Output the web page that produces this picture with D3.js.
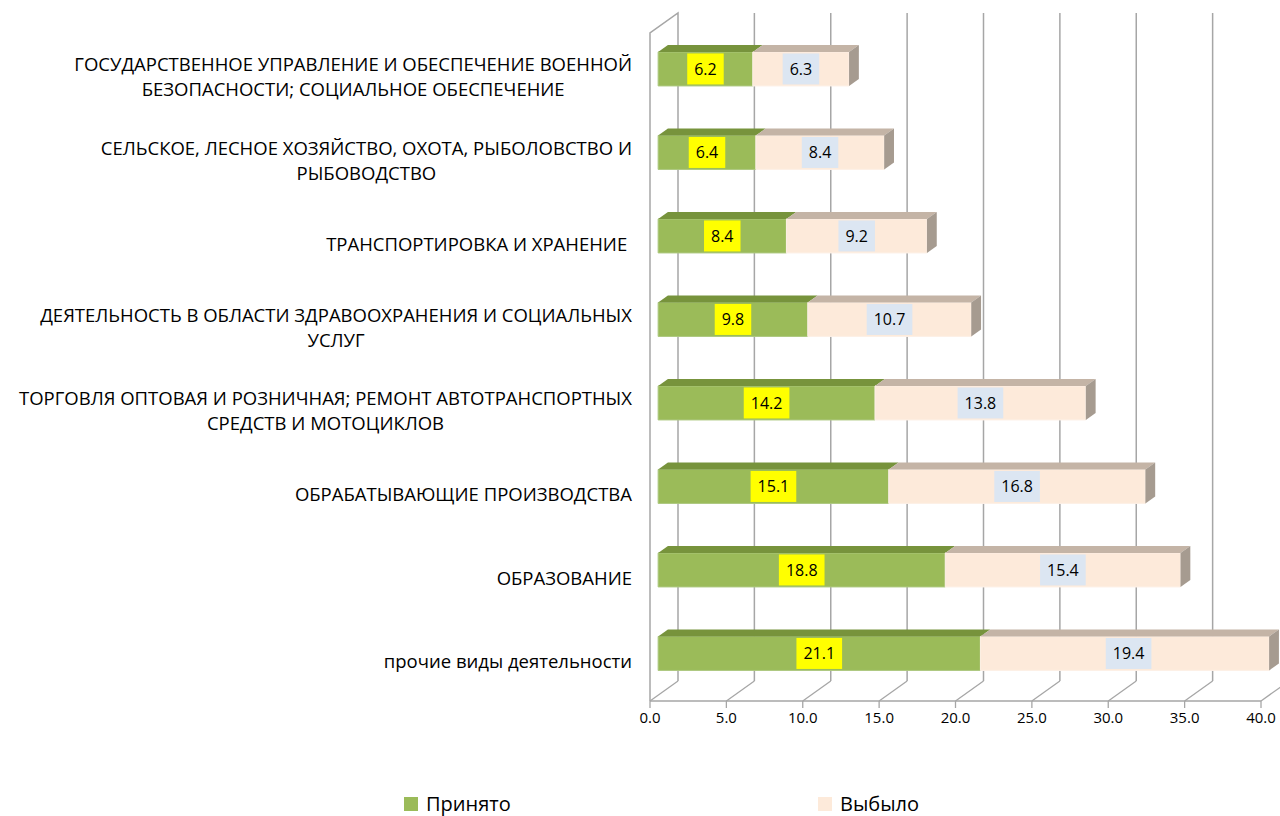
<!DOCTYPE html>
<html>
<head>
<meta charset="utf-8">
<script src="https://cdn.jsdelivr.net/npm/d3@7"></script>
<style>
  body { margin: 0; background: #fff; }
  svg { display: block; font-family: "Open Sans", "Noto Sans", sans-serif; }
</style>
</head>
<body>
<svg width="1280" height="816"></svg>
<script>
// categories, top to bottom ("\n" = line break in the label)
var categories = [
    'ГОСУДАРСТВЕННОЕ УПРАВЛЕНИЕ И ОБЕСПЕЧЕНИЕ ВОЕННОЙ\nБЕЗОПАСНОСТИ; СОЦИАЛЬНОЕ ОБЕСПЕЧЕНИЕ',
    'СЕЛЬСКОЕ, ЛЕСНОЕ ХОЗЯЙСТВО, ОХОТА, РЫБОЛОВСТВО И\nРЫБОВОДСТВО',
    'ТРАНСПОРТИРОВКА И ХРАНЕНИЕ ',
    'ДЕЯТЕЛЬНОСТЬ В ОБЛАСТИ ЗДРАВООХРАНЕНИЯ И СОЦИАЛЬНЫХ\nУСЛУГ',
    'ТОРГОВЛЯ ОПТОВАЯ И РОЗНИЧНАЯ; РЕМОНТ АВТОТРАНСПОРТНЫХ\nСРЕДСТВ И МОТОЦИКЛОВ',
    'ОБРАБАТЫВАЮЩИЕ ПРОИЗВОДСТВА',
    'ОБРАЗОВАНИЕ',
    'прочие виды деятельности'
];
var prinyato = [6.2, 6.4, 8.4, 9.8, 14.2, 15.1, 18.8, 21.1];
var vybylo   = [6.3, 8.4, 9.2, 10.7, 13.8, 16.8, 15.4, 19.4];
var seriesNames = ['Принято', 'Выбыло'];
var xTicks = [0, 5, 10, 15, 20, 25, 30, 35, 40];

var svg = d3.select('svg');

// 3d box: depth vector of the floor / walls
var DX = 28, DY = -20;
var F0 = 0.29, F1 = 0.64;   // bar front / back as share of the depth
var barH = 34;

var x = d3.scaleLinear().domain([0, 40]).range([650, 1261]).clamp(true);
var xRaw = x.copy().clamp(false);
var y = d3.scaleBand().domain(categories).range([33, 701]);

var grid = '#a6a6a6';
var g = svg.append('g');

// back wall gridlines
g.selectAll('line.grid')
    .data(xTicks.slice(1))
    .enter().append('line')
    .attr('x1', function(d){ return x(d) + DX; })
    .attr('x2', function(d){ return x(d) + DX; })
    .attr('y1', 33 + DY)
    .attr('y2', 701 + DY)
    .attr('stroke', grid).attr('stroke-width', 1.5);

// floor diagonals
g.selectAll('line.floor')
    .data(xTicks)
    .enter().append('line')
    .attr('x1', function(d){ return x(d); })
    .attr('y1', 701)
    .attr('x2', function(d){ return x(d) + DX; })
    .attr('y2', 701 + DY)
    .attr('stroke', grid).attr('stroke-width', 1.3);

// left wall
g.append('path')
    .attr('d', 'M' + x(0) + ',701 V33 L' + (x(0) + DX) + ',' + (33 + DY) + ' V' + (701 + DY))
    .attr('fill', 'none').attr('stroke', grid).attr('stroke-width', 1.5);

// floor front edge + ticks
g.append('line')
    .attr('x1', x(0)).attr('x2', x(40)).attr('y1', 701).attr('y2', 701)
    .attr('stroke', grid).attr('stroke-width', 1.5);
g.selectAll('line.tick')
    .data(xTicks)
    .enter().append('line')
    .attr('x1', function(d){ return x(d); })
    .attr('x2', function(d){ return x(d); })
    .attr('y1', 701).attr('y2', 708)
    .attr('stroke', grid).attr('stroke-width', 1.3);

g.selectAll('text.tick')
    .data(xTicks)
    .enter().append('text')
    .attr('x', function(d){ return x(d); })
    .attr('y', 723)
    .attr('text-anchor', 'middle')
    .attr('font-size', 15)
    .attr('fill', '#000')
    .text(function(d){ return d.toFixed(1); });

// bars
function pt(v, yc, f) {
    return [x(v) + f * DX, yc + f * DY];
}
function poly(points) {
    return 'M' + points.map(function(p){ return p[0] + ',' + p[1]; }).join('L') + 'Z';
}

var segs = [
    {values: prinyato, front: '#9bbb59', top: '#77933c', side: '#6f8a38', box: '#ffff00'},
    {values: vybylo,   front: '#fdeada', top: '#c4b4a6', side: '#a69b90', box: '#dce6f2'}
];

categories.forEach(function(cat, i){
    var yc = y(cat) + y.bandwidth() / 2;
    var yt = yc - barH / 2, yb = yc + barH / 2;
    var start = 0;
    var bg = g.append('g');
    segs.forEach(function(s, k){
        var v0 = start, v1 = start + s.values[i];
        start = v1;
        // front face
        bg.append('path')
            .attr('d', poly([pt(v0, yt, F0), pt(v1, yt, F0), pt(v1, yb, F0), pt(v0, yb, F0)]))
            .attr('fill', s.front)
            .attr('stroke', k === 0 ? '#aec880' : '#fdf0e6').attr('stroke-width', 1);
        // top face
        bg.append('path')
            .attr('d', poly([pt(v0, yt, F0), pt(v0, yt, F1), pt(v1, yt, F1), pt(v1, yt, F0)]))
            .attr('fill', s.top);
        if (k === segs.length - 1) {
            // right side face
            bg.append('path')
                .attr('d', poly([pt(v1, yt, F0), pt(v1, yt, F1), pt(v1, yb, F1), pt(v1, yb, F0)]))
                .attr('fill', s.side);
        }
        // value label, centred on the (unclipped) segment
        var cx = (xRaw(v0) + xRaw(v1)) / 2 + F0 * DX;
        var cy = yc + F0 * DY;
        var lab = bg.append('g');
        var t = lab.append('text')
            .attr('x', cx).attr('y', cy + 6)
            .attr('text-anchor', 'middle')
            .attr('font-size', 16)
            .attr('fill', '#000')
            .text(s.values[i].toFixed(1));
        var w = t.node().getComputedTextLength();
        lab.insert('rect', 'text')
            .attr('x', cx - w / 2 - 7).attr('width', w + 14)
            .attr('y', cy - barH / 2 + 1.5).attr('height', barH - 3)
            .attr('fill', s.box);
    });
});

// category labels: lines centred on each other, right edge at 632
categories.forEach(function(cat){
    var lines = cat.split('\n');
    var yc = y(cat) + y.bandwidth() / 2 + 3;
    var lg = svg.append('g');
    var texts = lines.map(function(line, j){
        return lg.append('text')
            .attr('y', yc + (j - (lines.length - 1) / 2) * 25 + 6)
            .attr('font-size', 18.5)
            .attr('fill', '#000')
            .attr('text-anchor', 'middle')
            .attr('xml:space', 'preserve')
            .text(line);
    });
    var maxW = d3.max(texts, function(t){ return t.node().getComputedTextLength(); });
    texts.forEach(function(t){ t.attr('x', 632 - maxW / 2); });
});

// legend
var legendX = [404, 818];
seriesNames.forEach(function(name, k){
    svg.append('rect')
        .attr('x', legendX[k]).attr('y', 797)
        .attr('width', 14).attr('height', 14)
        .attr('fill', segs[k].front);
    svg.append('text')
        .attr('x', legendX[k] + 22).attr('y', 811)
        .attr('font-size', 20)
        .attr('fill', '#000')
        .text(name);
});
</script>
</body>
</html>
